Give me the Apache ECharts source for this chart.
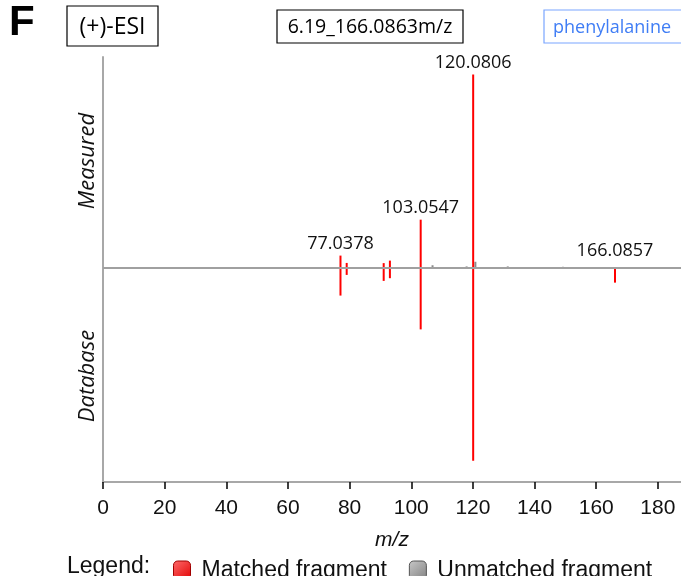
<!DOCTYPE html>
<html>
<head>
<meta charset="utf-8">
<script src="https://cdn.jsdelivr.net/npm/echarts@6/dist/echarts.min.js"></script>
<style>
  html, body { margin: 0; padding: 0; background: #fff; }
  #chart { width: 681px; height: 576px; }
</style>
</head>
<body>
<div id="chart"></div>
<script>
// Mirror MS/MS spectrum: measured peaks above the baseline, database peaks below.
const matchedMz       = [77.0378, 79.0542, 91.0542, 93.0699, 103.0547, 120.0806, 166.0857];
const matchedMeasured = [6.2, 2.4, 2.3, 3.6, 24.8, 100, 0.3];
const matchedDatabase = [14.5, 3.8, 6.9, 5.5, 32.0, 100, 7.8];
const matchedLabeled  = [1, 0, 0, 0, 1, 1, 1];

const unmatchedMz       = [106.9, 117.95, 120.8, 131.3, 149.2];
const unmatchedMeasured = [1.2, 0.6, 3.0, 0.6, 0.4];
const unmatchedDatabase = [0, 0, 0, 0, 0];

const xTicks = [0, 20, 40, 60, 80, 100, 120, 140, 160, 180];

const precursorText = '6.19_166.0863m/z';
const modeText = '(+)-ESI';
const compoundText = 'phenylalanine';

function peakRows(mz, up, down, labeled) {
  return mz.map((m, i) => [m, up[i], down[i], labeled ? labeled[i] : 0]);
}

function renderPeak(params, api) {
  const mz = api.value(0);
  const up = api.value(1);
  const down = api.value(2);
  const showLabel = api.value(3);
  const base = api.coord([mz, 0]);
  const top = api.coord([mz, up]);
  const bot = api.coord([mz, -down]);
  const color = api.visual('color');
  const children = [{
    type: 'line',
    shape: { x1: base[0], y1: top[1], x2: base[0], y2: bot[1] },
    style: { stroke: color, lineWidth: 2 }
  }];
  if (showLabel) {
    const yTop = Math.min(top[1], base[1] - 5);
    children.push({
      type: 'text',
      style: {
        text: mz.toFixed(4),
        x: base[0], y: yTop - 12,
        align: 'center', verticalAlign: 'middle',
        font: '18px "Open Sans", sans-serif',
        fill: '#111'
      }
    });
  }
  return { type: 'group', children };
}

function box(x, y, w, h, text, fontSize, color, border, textLeft) {
  return {
    type: 'group',
    children: [
      { type: 'rect', shape: { x, y, width: w, height: h },
        style: { fill: '#fff', stroke: border, lineWidth: 1.2 } },
      { type: 'text', style: {
        text,
        x: textLeft != null ? textLeft : x + w / 2,
        y: y + h / 2 + 1,
        align: textLeft != null ? 'left' : 'center',
        verticalAlign: 'middle',
        font: fontSize + 'px "Open Sans", sans-serif', fill: color } }
    ]
  };
}

const chart = echarts.init(document.getElementById('chart'), null, { renderer: 'canvas' });

const redGrad = new echarts.graphic.LinearGradient(0, 0, 1, 1, [
  { offset: 0, color: '#ff6b6b' }, { offset: 1, color: '#e00000' }
]);
const grayGrad = new echarts.graphic.LinearGradient(0, 0, 1, 1, [
  { offset: 0, color: '#c8c8c8' }, { offset: 1, color: '#808080' }
]);

chart.setOption({
  animation: false,
  backgroundColor: '#fff',
  grid: { left: 103, right: 0, top: 57, bottom: 94, containLabel: false },
  xAxis: {
    type: 'value',
    min: 0, max: 187.5, interval: 20,
    name: 'm/z',
    nameLocation: 'middle',
    nameGap: 48,
    nameTextStyle: { fontFamily: 'Liberation Sans', fontStyle: 'italic', fontSize: 21, color: '#111' },
    axisLine: { onZero: false, lineStyle: { color: '#a8a8a8', width: 2 } },
    axisTick: { customValues: xTicks, length: 7, lineStyle: { color: '#000', width: 1.5 } },
    axisLabel: { customValues: xTicks, color: '#111', fontSize: 21, fontFamily: 'Liberation Sans', margin: 16 },
    splitLine: { show: false }
  },
  yAxis: {
    type: 'value',
    min: -111, max: 109,
    axisLine: { show: true, lineStyle: { color: '#a8a8a8', width: 2 } },
    axisTick: { show: false },
    axisLabel: { show: false },
    splitLine: { show: false }
  },
  legend: {
    left: 168, top: 554,
    itemWidth: 17, itemHeight: 19, itemGap: 22,
    icon: 'roundRect',
    textStyle: { fontFamily: 'Liberation Sans', fontSize: 23, color: '#111', padding: [0, 0, 0, 6] },
    data: [
      { name: 'Matched fragment', itemStyle: { color: redGrad, borderColor: '#a00000', borderWidth: 1 } },
      { name: 'Unmatched fragment', itemStyle: { color: grayGrad, borderColor: '#555', borderWidth: 1 } }
    ]
  },
  graphic: [
    { type: 'text', left: 9, top: 2,
      style: { text: 'F', font: 'bold 42px "Liberation Sans", sans-serif', fill: '#000' } },
    box(67, 6, 91, 40, modeText, 23, '#000', '#000'),
    box(277, 10, 186, 33, precursorText, 19.5, '#000', '#000'),
    box(544, 10, 150, 33, compoundText, 18, '#3f7df5', '#7aa6ff', 553),
    { type: 'text', x: 88, y: 161, rotation: Math.PI / 2,
      style: { text: 'Measured', align: 'center', verticalAlign: 'middle',
        font: 'italic 22px "Open Sans", sans-serif', fill: '#111' } },
    { type: 'text', x: 88, y: 376, rotation: Math.PI / 2,
      style: { text: 'Database', align: 'center', verticalAlign: 'middle',
        font: 'italic 22px "Open Sans", sans-serif', fill: '#111' } },
    { type: 'text', left: 67, top: 555,
      style: { text: 'Legend:', font: '23px "Liberation Sans", sans-serif', fill: '#111' } }
  ],
  series: [
    {
      name: 'Unmatched fragment',
      type: 'custom',
      z: 2,
      itemStyle: { color: '#8c8c8c' },
      renderItem: renderPeak,
      data: peakRows(unmatchedMz, unmatchedMeasured, unmatchedDatabase),
      markLine: {
        silent: true, symbol: ['none', 'none'],
        label: { show: false },
        lineStyle: { color: '#a0a0a0', width: 2, type: 'solid' },
        data: [{ yAxis: 0 }]
      }
    },
    {
      name: 'Matched fragment',
      type: 'custom',
      z: 3,
      itemStyle: { color: '#ff0000' },
      renderItem: renderPeak,
      data: peakRows(matchedMz, matchedMeasured, matchedDatabase, matchedLabeled)
    }
  ]
});
</script>
</body>
</html>
